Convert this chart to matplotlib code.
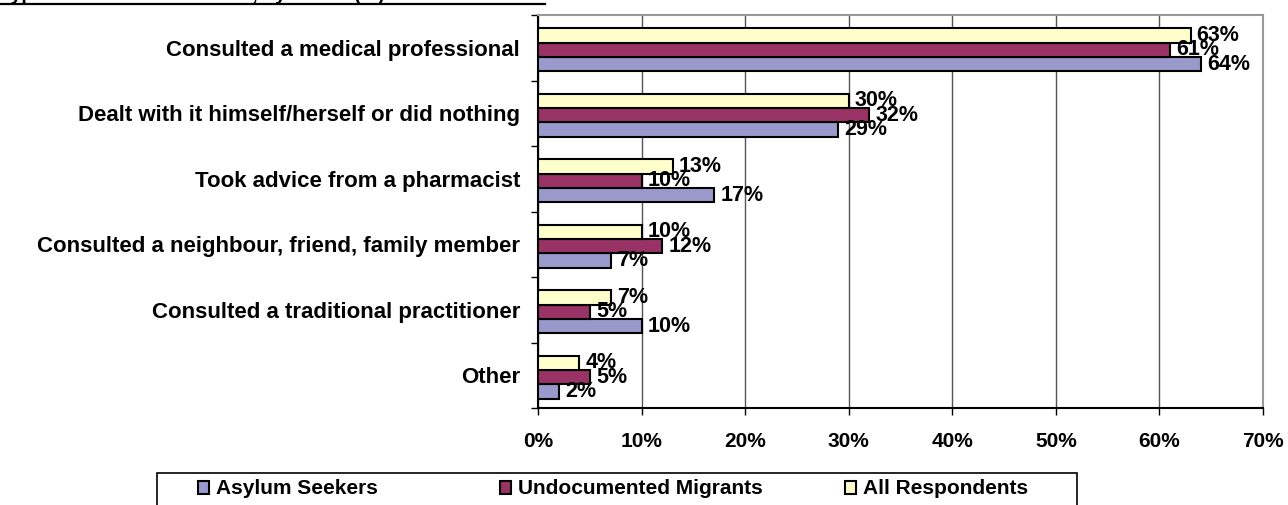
import matplotlib.pyplot as plt
import numpy as np
from matplotlib.lines import Line2D
from matplotlib.patches import Rectangle

plt.rcParams['font.family'] = ['Liberation Sans', 'DejaVu Sans']

# datos del grafico (de arriba hacia abajo)
categories = ["Consulted a medical professional",
              "Dealt with it himself/herself or did nothing",
              "Took advice from a pharmacist",
              "Consulted a neighbour, friend, family member",
              "Consulted a traditional practitioner",
              "Other"]
asylum = [64, 29, 17, 7, 10, 2]
undocumented = [61, 32, 10, 12, 5, 5]
all_resp = [63, 30, 13, 10, 7, 4]
series_names = ["Asylum Seekers", "Undocumented Migrants", "All Respondents"]
title = "Type of health consultation, by status (%)"

colors = ["#9999CC", "#993366", "#FFFFCC"]

W, H = 1288, 505
fig = plt.figure(figsize=(W/100, H/100), dpi=100)
ax = fig.add_axes([538/W, 1-408/H, (1263-538)/W, (408-15)/H])

n = len(categories)
pos = np.arange(n)[::-1].astype(float) - 0.03  # grupo de arriba con y mayor
h = 0.22
series = [asylum, undocumented, all_resp]
offsets = [-h, 0, h]
bars = []
for vals, off, col, name in zip(series, offsets, colors, series_names):
    b = ax.barh(pos + off, vals, height=h, color=col, edgecolor='black',
                linewidth=1.5, label=name, zorder=3)
    bars.append(b)
    for y, v in zip(pos + off, vals):
        ax.text(v + 0.6, y, f"{v}%", va='center', ha='left',
                fontsize=15.5, fontweight='bold', zorder=4)

ax.set_xlim(0, 70)
ax.set_ylim(-0.5, n - 0.5)
ax.set_xticks(np.arange(0, 71, 10))
ax.set_xticklabels([f"{t}%" for t in range(0, 71, 10)], fontsize=15,
                   fontweight='bold')
ax.tick_params(axis='x', length=5, width=1, pad=12, color='black')
ax.xaxis.grid(True, color='#555555', linewidth=1, zorder=0)

# ticks en los limites de cada grupo, etiquetas en el centro
ax.set_yticks(np.arange(n + 1) - 0.5)
ax.set_yticklabels([])
ax.set_yticks(np.arange(n)[::-1], minor=True)
ax.set_yticklabels(categories, minor=True, fontsize=16, fontweight='bold')
ax.tick_params(axis='y', which='major', length=5, width=1)
ax.tick_params(axis='y', which='minor', length=0, pad=13)

for s in ['top', 'right']:
    ax.spines[s].set_color('#999999')
    ax.spines[s].set_linewidth(1.5)
for s in ['left', 'bottom']:
    ax.spines[s].set_color('black')
    ax.spines[s].set_linewidth(1.5)

# caja de la leyenda (cortada abajo como en la referencia)
fig.add_artist(Rectangle((157/W, -0.02), (1077-157)/W, 0.02 + 1-473/H,
                         transform=fig.transFigure, fill=False,
                         edgecolor='black', linewidth=1.2))
legend_x = [198, 500, 845]
for bar, name, lx in zip(bars, series_names, legend_x):
    fig.legend(handles=[bar], labels=[name], loc='center left',
               bbox_to_anchor=(lx/W, 1-489/H), frameon=False,
               prop={'weight': 'bold', 'size': 15},
               handlelength=0.55, handleheight=0.6, handletextpad=0.3,
               borderpad=0, borderaxespad=0)

# titulo (recortado arriba en la referencia)
fig.text(0.0, 1 - 0.5/H, title, ha='left', va='baseline', fontsize=14,
         fontweight='bold')
fig.add_artist(Line2D([0, 545/W], [1 - 3.7/H, 1 - 3.7/H], color='black',
                      linewidth=1.6, transform=fig.transFigure))

fig.savefig("out.png", dpi=100)
